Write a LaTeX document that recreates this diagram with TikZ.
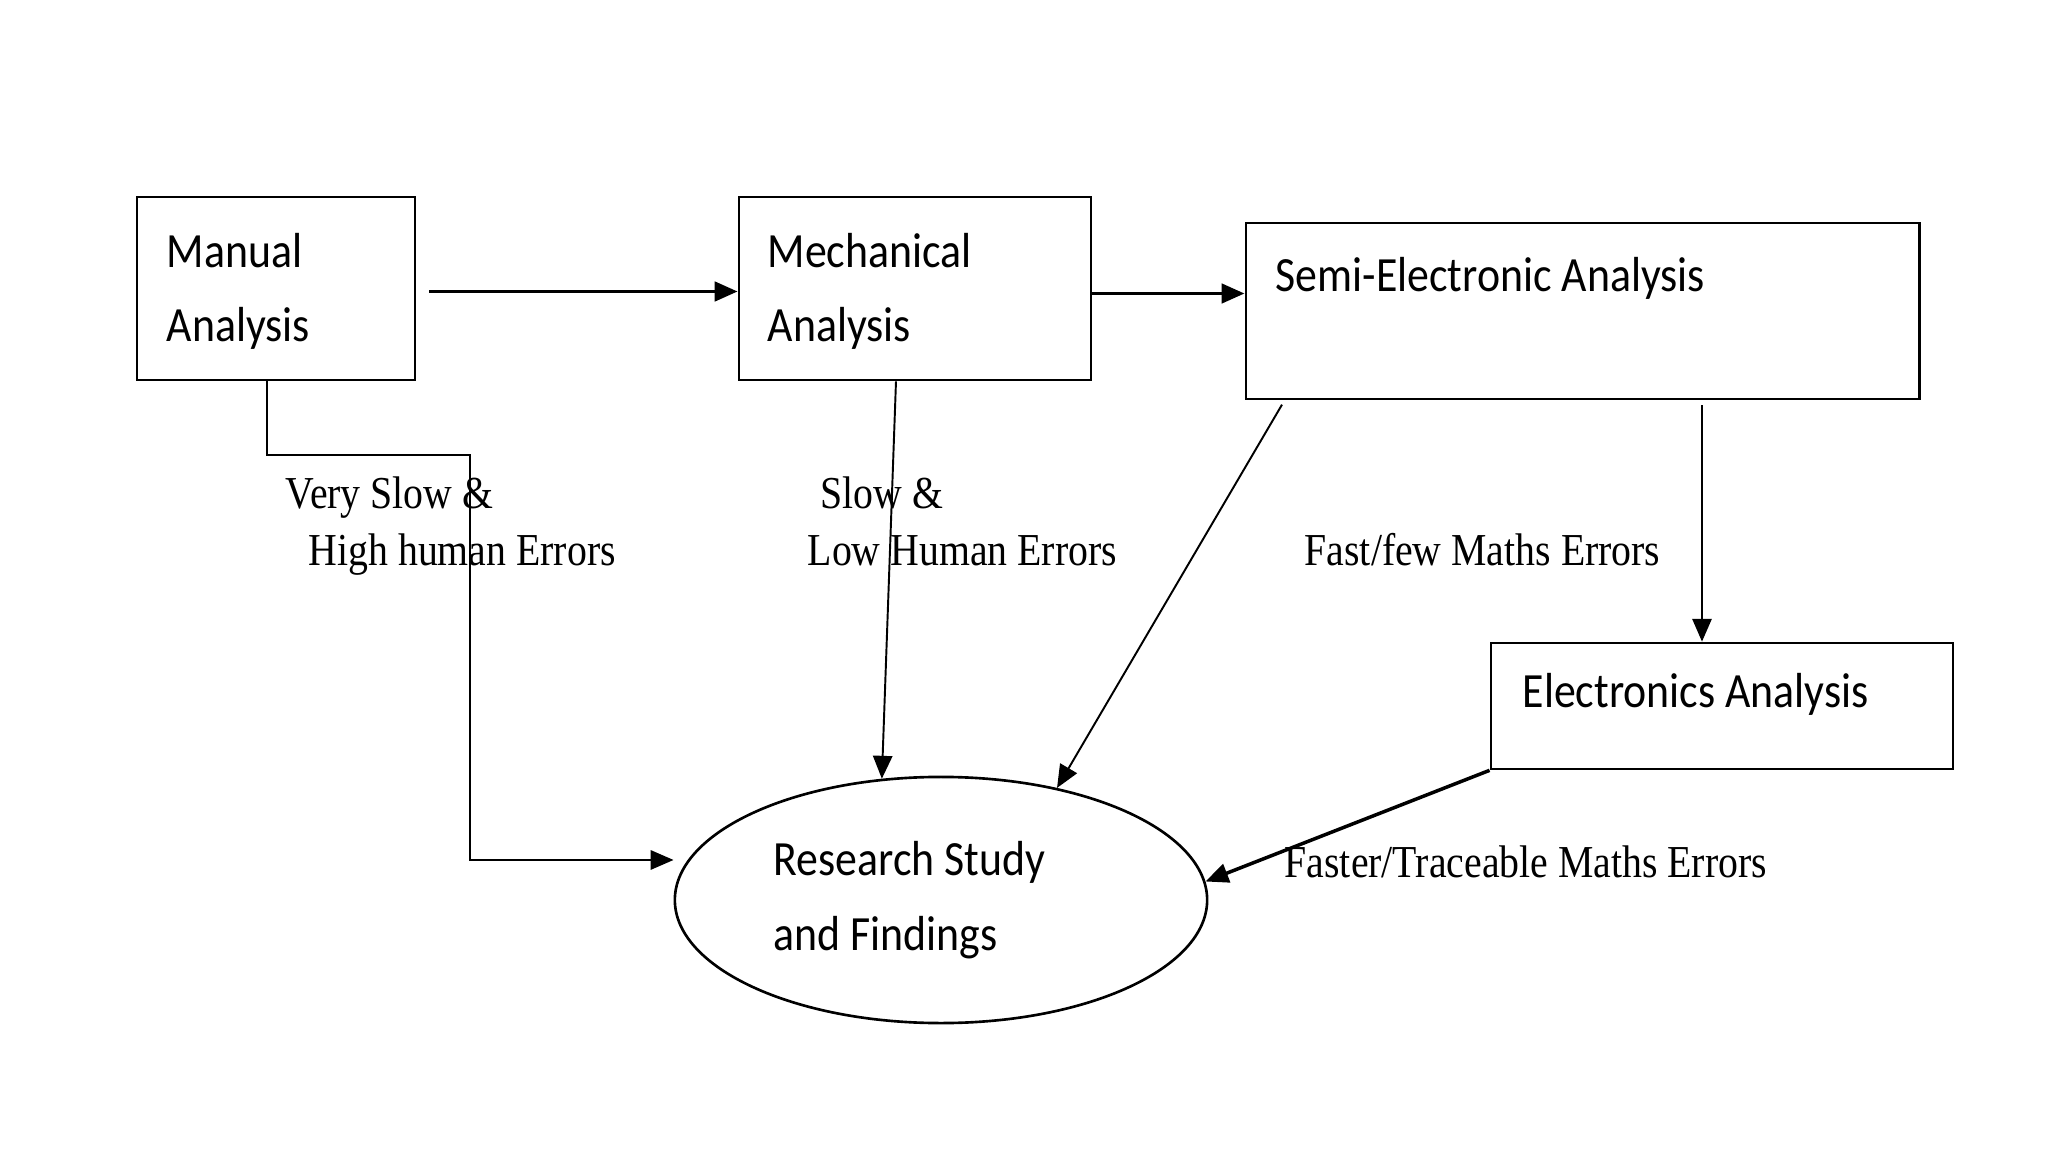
\documentclass[tikz,border=0pt]{standalone}
\usepackage{fontspec}
\usepackage{tikz}
\usetikzlibrary{positioning,arrows.meta,shapes.geometric}
\newfontfamily\boxfont[FakeStretch=0.89]{Carlito}
\newfontfamily\lblfont[FakeStretch=0.87]{Liberation Serif}

\begin{document}
\begin{tikzpicture}[
  x=0.01cm,y=-0.01cm,
  >={Triangle[length=6.5pt,width=5.5pt]},
  stage/.style={draw=black,line width=0.75pt,fill=white,inner sep=0pt},
  boxtxt/.style={anchor=base west,inner sep=0pt,align=left,font=\boxfont\fontsize{14pt}{21.3pt}\selectfont},
  note/.style={anchor=base west,inner sep=0pt,align=left,font=\lblfont\fontsize{13pt}{16.3pt}\selectfont},
  flow/.style={->,draw=black,line width=0.55pt},
  heavy/.style={->,draw=black,line width=1pt}
]
  \path[use as bounding box] (0,0) rectangle (2048,1152);
  \fill[white] (0,0) rectangle (2048,1152);

  \node[stage,minimum width=2.78cm,minimum height=1.83cm] (manual) at (276,288.5) {};
  \node[stage,minimum width=3.52cm,minimum height=1.83cm] (mech) at (915,288.5) {};
  \node[stage,minimum width=6.73cm,minimum height=1.76cm] (semi) at (1582.5,311) {};
  \node[stage,minimum width=4.62cm,minimum height=1.26cm] (elec) at (1722,706) {};
  \node[stage,ellipse,minimum width=5.32cm,minimum height=2.46cm] (research) at (941,900) {};

  \node[boxtxt] (manualtxt) at (166,342) {Manual\\Analysis};
  \node[boxtxt] (mechtxt) at (767,342) {Mechanical\\Analysis};
  \node[boxtxt] (semitxt) at (1275,292) {Semi-Electronic Analysis};
  \node[boxtxt] (electxt) at (1522,707) {Electronics Analysis};
  \node[boxtxt] (researchtxt) at (773,950) {Research Study\\and Findings};

  \node[note] (vslow) at (285,566) {Very Slow \&\\\hspace*{0.23cm}High human Errors};
  \node[note] (slow) at (807,566) {\hspace*{0.13cm}Slow \&\\Low Human Errors};
  \node[note] (fast) at (1304,565) {Fast/few Maths Errors};
  \node[note] (faster) at (1284,877) {Faster/Traceable Maths Errors};

  \coordinate (mbend) at (470,455);
  \coordinate (etop) at ([xshift=-0.2cm]elec.north);

  \draw[heavy,shorten <=0.13cm] ([yshift=-0.03cm]manual.east) -- ([yshift=-0.03cm]mech.west);
  \draw[heavy] ([yshift=-0.05cm]mech.east) -- ([yshift=-0.05cm]mech.east -| semi.west);
  \draw[flow] ([xshift=-0.09cm]manual.south) |- (mbend) |- ([yshift=0.4cm]research.west);
  \draw[flow] ([xshift=-0.19cm]mech.south) -- (research.116);
  \draw[flow,shorten <=0.05cm] ([xshift=0.4cm]semi.south west) -- (research.44);
  \draw[flow,shorten <=0.05cm] (semi.south -| etop) -- (etop);
  \draw[heavy] (elec.south west) -- (research.4);
\end{tikzpicture}
\end{document}
